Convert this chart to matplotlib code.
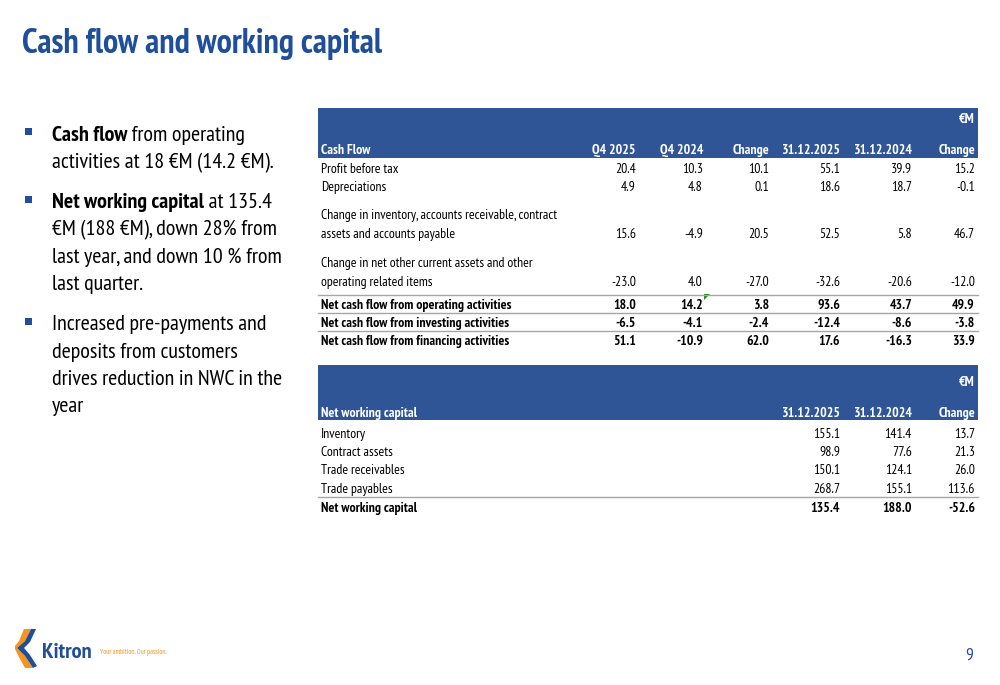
import matplotlib
matplotlib.use("Agg")
import matplotlib.pyplot as plt
from matplotlib import font_manager
from matplotlib.patches import Rectangle, Polygon

# the slide uses a squeezed Calibri, a narrow humanist font is closest
names = {f.name for f in font_manager.fontManager.ttflist}
CANDIDATES = ["PT Sans Narrow", "Asap Condensed", "Roboto Condensed", "Carlito", "Lato", "DejaVu Sans"]
FONT = next(n for n in CANDIDATES if n in names)
plt.rcParams['font.family'] = [FONT, 'DejaVu Sans']

title = "Cash flow and working capital"

bullets = [
    ("Cash flow", " from operating\nactivities at 18 €M (14.2 €M)."),
    ("Net working capital", " at 135.4\n€M (188 €M), down 28% from\nlast year, and down 10 % from\nlast quarter."),
    ("", "Increased pre-payments and\ndeposits from customers\ndrives reduction in NWC in the\nyear"),
]

cf_cols = ["Q4 2025", "Q4 2024", "Change", "31.12.2025", "31.12.2024", "Change"]
cf_rows = [
    "Profit before tax",
    "Depreciations",
    "Change in inventory, accounts receivable, contract\nassets and accounts payable",
    "Change in net other current assets and other\noperating related items",
    "Net cash flow from operating activities",
    "Net cash flow from investing activities",
    "Net cash flow from financing activities",
]
cf_vals = [
    [20.4, 10.3, 10.1, 55.1, 39.9, 15.2],
    [4.9, 4.8, 0.1, 18.6, 18.7, -0.1],
    [15.6, -4.9, 20.5, 52.5, 5.8, 46.7],
    [-23.0, 4.0, -27.0, -32.6, -20.6, -12.0],
    [18.0, 14.2, 3.8, 93.6, 43.7, 49.9],
    [-6.5, -4.1, -2.4, -12.4, -8.6, -3.8],
    [51.1, -10.9, 62.0, 17.6, -16.3, 33.9],
]
cf_bold = [False, False, False, False, True, True, True]

nwc_cols = ["31.12.2025", "31.12.2024", "Change"]
nwc_rows = ["Inventory", "Contract assets", "Trade receivables", "Trade payables", "Net working capital"]
nwc_vals = [
    [155.1, 141.4, 13.7],
    [98.9, 77.6, 21.3],
    [150.1, 124.1, 26.0],
    [268.7, 155.1, 113.6],
    [135.4, 188.0, -52.6],
]
nwc_bold = [False, False, False, False, True]

BLUE = "#1f4e9a"
HEAD = "#2f5597"
GRID = "#a6a6a6"
ORANGE = "#f7941d"
VA = "center_baseline"

fig = plt.figure(figsize=(10, 6.85), dpi=100)
ax = fig.add_axes([0, 0, 1, 1])
ax.set_xlim(0, 1000)
ax.set_ylim(685, 0)
ax.axis("off")
fig.canvas.draw()
R = fig.canvas.get_renderer()


def fit_size(s, width, base=10, **kw):
    # size so the string is about as wide as in the slide
    t = ax.text(0, 0, s, fontsize=base, **kw)
    w = t.get_window_extent(R).width
    t.remove()
    return base * width / w


title_fs = fit_size(title, 361, fontweight="bold")
ax.text(22, 40, title, fontsize=title_fs, fontweight="bold", color=BLUE, va=VA, ha="left")

# bullets
bfs = fit_size("activities at 18 €M (14.2 €M).", 223)
line_h = 27.3
y = 133
for bold, rest in bullets:
    ax.add_patch(Rectangle((25, y - 5), 7, 7, color=BLUE, lw=0))
    first, *others = rest.split("\n")
    x = 52
    if bold:
        t = ax.text(x, y, bold, fontsize=bfs, fontweight="bold", va=VA, ha="left")
        x = t.get_window_extent(R).x1
    ax.text(x, y, first, fontsize=bfs, va=VA, ha="left")
    for k, ln in enumerate(others):
        ax.text(52, y + (k + 1) * line_h, ln, fontsize=bfs, va=VA, ha="left")
    y += (len(others) + 1) * line_h + 13

fs = fit_size("Change in inventory, accounts receivable, contract", 238)
X0, X1 = 318, 978
cf_x = [636, 703, 769, 840, 912, 975]

# cash flow table
ax.add_patch(Rectangle((X0, 108), X1 - X0, 50, color=HEAD, lw=0))
ax.text(975, 118, "€M", fontsize=fs, color="white", fontweight="bold", ha="right", va=VA)
ax.text(321, 149, "Cash Flow", fontsize=fs, color="white", fontweight="bold", ha="left", va=VA)
for x, c in zip(cf_x, cf_cols):
    ax.text(x, 149, c, fontsize=fs, color="white", fontweight="bold", ha="right", va=VA)

cf_y = [168, 186, 233, 281, 304, 322, 340]
for name, vals, yy, bd in zip(cf_rows, cf_vals, cf_y, cf_bold):
    w = "bold" if bd else "normal"
    lines = name.split("\n")
    for k, ln in enumerate(lines):
        ax.text(321, yy - (len(lines) - 1 - k) * 19, ln, fontsize=fs, fontweight=w, ha="left", va=VA)
    for x, v in zip(cf_x, vals):
        ax.text(x, yy, f"{v:.1f}", fontsize=fs, fontweight=w, ha="right", va=VA)
for yy in [295, 313, 331]:
    ax.plot([X0, X1], [yy, yy], color=GRID, lw=1)
ax.add_patch(Polygon([[704, 294], [710, 294], [704, 300]], color="#1e8c1e", lw=0))

# net working capital table
ax.add_patch(Rectangle((X0, 365), X1 - X0, 55, color=HEAD, lw=0))
ax.text(975, 381, "€M", fontsize=fs, color="white", fontweight="bold", ha="right", va=VA)
ax.text(321, 412, "Net working capital", fontsize=fs, color="white", fontweight="bold", ha="left", va=VA)
nwc_x = cf_x[3:]
for x, c in zip(nwc_x, nwc_cols):
    ax.text(x, 412, c, fontsize=fs, color="white", fontweight="bold", ha="right", va=VA)
nwc_y = [433, 451, 469, 488, 507]
for name, vals, yy, bd in zip(nwc_rows, nwc_vals, nwc_y, nwc_bold):
    w = "bold" if bd else "normal"
    ax.text(321, yy, name, fontsize=fs, fontweight=w, ha="left", va=VA)
    for x, v in zip(nwc_x, vals):
        ax.text(x, yy, f"{v:.1f}", fontsize=fs, fontweight=w, ha="right", va=VA)
ax.plot([X0, X1], [497, 497], color=GRID, lw=1)

# logo
ax.add_patch(Polygon([[24, 629], [31, 629], [25, 641], [17, 648], [25, 656], [33, 668],
                      [25, 668], [19, 657], [15, 649], [15, 646], [19, 641]], color=ORANGE, lw=0))
ax.add_patch(Polygon([[31, 629], [36, 629], [30, 642], [24, 648], [30, 655], [37, 666],
                      [33, 668], [25, 656], [17, 648], [25, 641]], color=BLUE, lw=0))
ax.text(42, 651, "Kitron", fontsize=fit_size("Kitron", 50, fontweight="bold", fontstyle="italic"),
        fontweight="bold", fontstyle="italic", color=BLUE, ha="left", va=VA)
ax.text(100, 652, "Your ambition. Our passion.", fontsize=fit_size("Your ambition. Our passion.", 68),
        color=ORANGE, ha="left", va=VA)

ax.text(973, 654, "9", fontsize=bfs * 0.8, color=BLUE, ha="right", va=VA)

fig.savefig("out.png", dpi=100)
